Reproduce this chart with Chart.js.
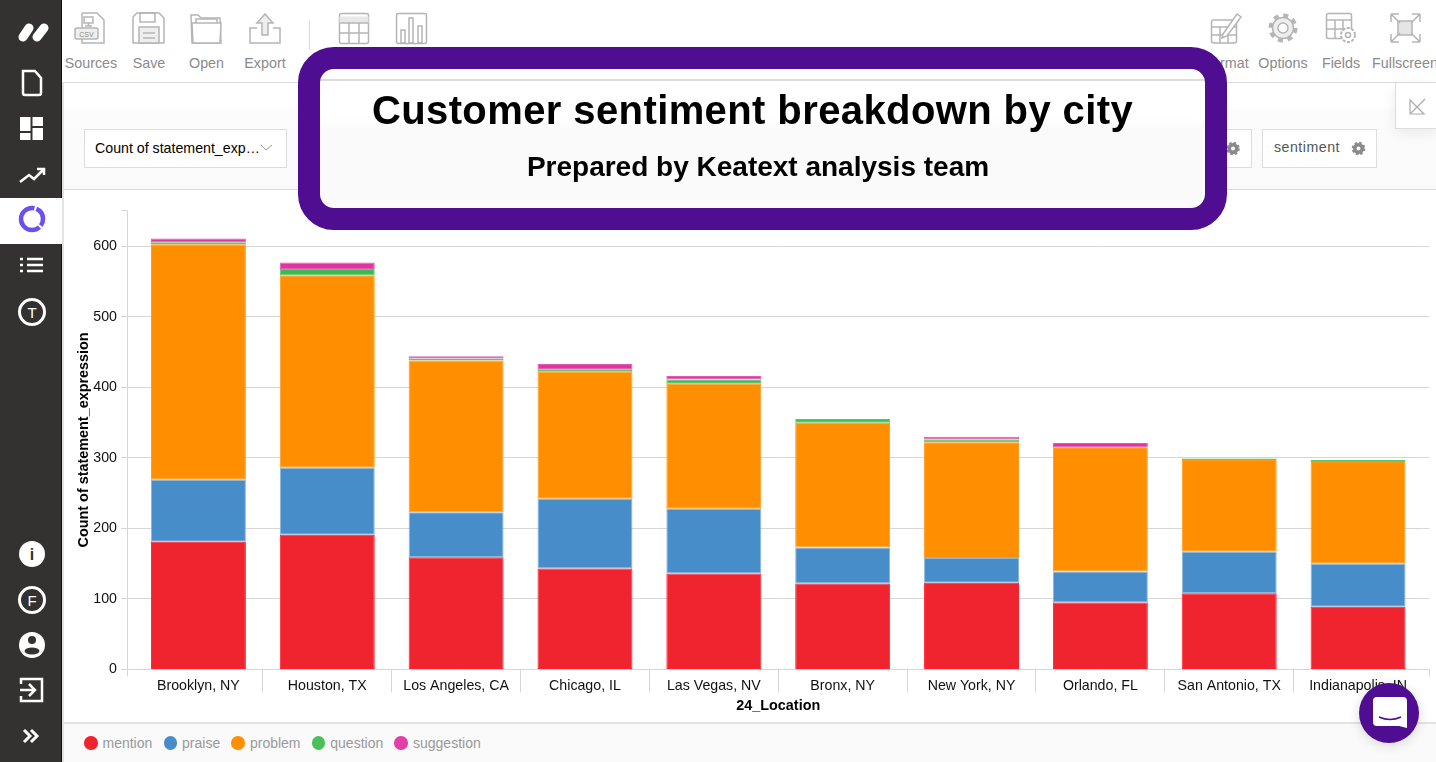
<!DOCTYPE html>
<html>
<head>
<meta charset="utf-8">
<title>Customer sentiment breakdown by city</title>
<script src="https://cdn.jsdelivr.net/npm/chart.js@4/dist/chart.umd.min.js"></script>
<style>
    html, body { margin: 0; padding: 0; width: 1436px; height: 762px; overflow: hidden; background: #fff; font-family: "Liberation Sans", Arial, sans-serif; }
    .abs { position: absolute; }
    #sidebar { left: 0; top: 0; width: 61px; height: 762px; background: #333230; border-right: 1px solid #111; }
    #active-band { left: 0; top: 198px; width: 62px; height: 46px; background: #fff; }
    #main-edge { left: 62px; top: 82px; width: 2px; height: 680px; background: #e2e2e2; }
    #toolbar-line { left: 62px; top: 82px; width: 1374px; height: 1px; background: #ddd; }
    #filter-band { left: 64px; top: 108px; width: 1372px; height: 81px; background: linear-gradient(#fcfcfc, #fafafa); border-bottom: 1px solid #ddd; }
    .tool { top: 55px; font-size: 14.300px; color: #8a8a8a; transform: translateX(-50%); white-space: nowrap; }
    .sep { left: 309px; top: 20px; width: 1px; height: 30px; background: #ddd; }
    .box { top: 129px; height: 37px; background: #fff; border: 1px solid #ddd; font-size: 14.200px; line-height: 37px; }
    #chart-wrap { left: 62px; top: 190px; width: 1374px; height: 532px; }
    #footer { left: 64px; top: 722px; width: 1372px; height: 40px; background: #fafafa; border-top: 2px solid #e2e2e2; box-sizing: border-box; }
    #legend { left: 84px; top: 734px; display: flex; gap: 11.250px; font-size: 14px; line-height: 18px; color: #999; }
    #legend .item { display: flex; align-items: center; gap: 5px; }
    #legend .dot { width: 13.500px; height: 13.500px; border-radius: 50%; }
    #headline { left: 298px; top: 47px; width: 885px; height: 139px; border: 22px solid #4f0d91; border-radius: 36px; background: linear-gradient(#fff 0, #fff 10px, #ddd 10px, #ddd 12px, #fff 12px, #fff 48px, #fafafa 60px); }
    .head-text { color: #000; font-weight: bold; transform: translateX(-50%); white-space: nowrap; }
    #corner { left: 1395px; top: 83px; width: 41px; height: 45px; background: #fff; border-left: 1px solid #ddd; border-bottom: 1px solid #ddd; box-shadow: 0 4px 14px rgba(0,0,0,.08); }
    #bubble { left: 1359px; top: 683px; width: 60px; height: 60px; border-radius: 50%; background: #4f0d91; box-shadow: 0 2px 12px rgba(0,0,0,.15); }
    svg { position: absolute; overflow: visible; }
</style>
</head>
<body>
<div class="abs" id="toolbar-line"></div>
<div class="abs" id="filter-band"></div>
<div class="abs" id="main-edge"></div>

<!-- toolbar icons -->
<svg class="abs" style="left:0;top:0" width="1436" height="90" fill="none" stroke="#b5b5b5" stroke-width="1.500">
    <path d="M82 13h15l7 7v23H82v-5M82 30v-17"/><rect x="75" y="28" width="23" height="11" rx="2" fill="#eee"/>
    <text x="86.500" y="37" font-size="7" fill="#888" stroke="none" text-anchor="middle">CSV</text>
    <rect x="84" y="17" width="9" height="6"/><path d="M88.500 23v3M85 26h7"/>
    <path d="M137 13h22l5 5v25h-31V17z"/><rect x="140" y="13" width="15" height="9"/><rect x="139" y="27" width="20" height="16" fill="#eee"/><path d="M143 33h12M143 38h12"/>
    <path d="M192 43l-1-28h7l3 3h19l1 25z"/><path d="M193 43l-1-20h29l-1 20z" fill="#fff"/><path d="M196 23v-4h21v4"/>
    <path d="M257 28h-7v15h30V28h-7"/><path d="M265 14l-8 9h5v12h6V23h5z" fill="#eee"/>
    <rect x="339.500" y="13.500" width="29" height="30" rx="2"/><path d="M339.500 20h29" stroke-width="7" stroke="#e8e8e8"/><path d="M339.500 23h29M339.500 33h29M349 23v20M359 23v20"/>
    <rect x="396.500" y="13.500" width="30" height="30" rx="2"/><rect x="401" y="30" width="4" height="13"/><rect x="409" y="18" width="4" height="25"/><rect x="418" y="26" width="4" height="17"/>
    <rect x="1211.500" y="20" width="25" height="23" rx="2"/><path d="M1211.500 27h25M1211.500 35h25M1220 27v16M1228 27v16"/><path d="M1223 34l14-20 4 3-14 19-5 2z" fill="#fff"/>
    <circle cx="1283" cy="28" r="12.500" stroke-width="4" stroke-dasharray="5 4.800"/><circle cx="1283" cy="28" r="10.500" fill="#eee"/><circle cx="1283" cy="28" r="5" fill="#fff"/>
    <rect x="1326.500" y="13.500" width="25" height="25" rx="2"/><path d="M1326.500 20h25M1326.500 29h25M1335 20v18M1343 20v18"/><circle cx="1348" cy="35" r="7" fill="#fff" stroke-width="2" stroke-dasharray="3 1.500"/><circle cx="1348" cy="35" r="2.500"/>
    <rect x="1398" y="21" width="14" height="14" fill="#e5e5e5"/><path d="M1391 14l9 9M1420 14l-9 9M1391 42l9-9M1420 42l-9-9M1391 14h8M1391 14v8M1420 14h-8M1420 14v8M1391 42h8M1391 42v-8M1420 42h-8M1420 42v-8"/>
</svg>
<div class="abs sep"></div>
<div class="abs tool" style="left:91px">Sources</div>
<div class="abs tool" style="left:149px">Save</div>
<div class="abs tool" style="left:206.500px">Open</div>
<div class="abs tool" style="left:265px">Export</div>
<div class="abs tool" style="left:1226px">Format</div>
<div class="abs tool" style="left:1283px">Options</div>
<div class="abs tool" style="left:1341px">Fields</div>
<div class="abs tool" style="left:1405px">Fullscreen</div>

<!-- filter controls -->
<div class="abs box" style="left:84px;width:191px;padding-left:10px;color:#000">Count of statement_exp…</div>
<div class="abs box" style="left:1180px;width:70px"></div>
<div class="abs box" style="left:1262px;width:102px;padding-left:11px;color:#555;letter-spacing:.5px;line-height:35px">sentiment</div>
<svg class="abs" style="left:0;top:0" width="1436" height="200" fill="none">
    <path d="M261 145l5 5 6-5" stroke="#999"/>
    <circle cx="1233" cy="148.500" r="3.800" stroke="#8a8a8a" stroke-width="3.600"/>
    <circle cx="1233" cy="148.500" r="5.800" stroke="#8a8a8a" stroke-width="2" stroke-dasharray="2.500 2.050"/>
    <circle cx="1358.500" cy="148.500" r="3.800" stroke="#8a8a8a" stroke-width="3.600"/>
    <circle cx="1358.500" cy="148.500" r="5.800" stroke="#8a8a8a" stroke-width="2" stroke-dasharray="2.500 2.050"/>
</svg>
<div class="abs" id="corner"></div>
<svg class="abs" style="left:0;top:0" width="1436" height="130" fill="none" stroke="#aaa" stroke-width="1.200">
    <path d="M1425 99l-14 14M1410 100v14h14z"/>
</svg>

<div class="abs" id="chart-wrap"><canvas id="cityChart" width="1374" height="532"></canvas></div>

<div class="abs" id="footer"></div>
<div class="abs" id="legend"></div>

<!-- headline overlay -->
<div class="abs" id="headline"></div>
<div class="abs head-text" style="left:752.500px;top:87px;font-size:40px;line-height:46px;letter-spacing:.4px">Customer sentiment breakdown by city</div>
<div class="abs head-text" style="left:758px;top:151px;font-size:28px;line-height:32px">Prepared by Keatext analysis team</div>

<!-- sidebar -->
<div class="abs" id="sidebar"></div>
<div class="abs" id="active-band"></div>
<svg class="abs" style="left:0;top:0" width="62" height="762" fill="none" stroke="#fff" stroke-width="2.500">
    <path d="M23 37L29 28" stroke-width="9" stroke-linecap="round"/><path d="M37 37L44 28" stroke-width="9" stroke-linecap="round"/>
    <path d="M23 71h12l6 7v15a2 2 0 0 1-2 2H25a2 2 0 0 1-2-2z"/>
    <path d="M20 117h10.500v14H20zM32.500 117h10.500v9H32.500zM32.500 128h10.500v12H32.500zM20 133h10.500v7H20z" fill="#fff" stroke="none"/>
    <path d="M20 182l9-7 5 4 9-9M37 169h7v6"/>
    <circle cx="32" cy="219" r="11" stroke="#6b4ff0" stroke-width="4.500" stroke-dasharray="7 2 45 2 13"/>
    <path d="M27 259h16M27 265h16M27 271h16M20 259h3M20 265h3M20 271h3" stroke-width="2.500"/>
    <circle cx="32" cy="312" r="12.500" stroke-width="3"/><text x="32" y="318" font-size="15" fill="#fff" stroke="none" text-anchor="middle">T</text>
    <circle cx="32" cy="554" r="13" fill="#fff" stroke="none"/><text x="32" y="560" font-size="16" font-weight="bold" fill="#333230" stroke="none" text-anchor="middle">i</text>
    <circle cx="32" cy="600" r="12.500" stroke-width="3"/><text x="32" y="606" font-size="15" fill="#fff" stroke="none" text-anchor="middle">F</text>
    <circle cx="32" cy="645" r="13" fill="#fff" stroke="none"/><circle cx="32" cy="640" r="4" fill="#333230" stroke="none"/><ellipse cx="32" cy="651" rx="7.500" ry="3.500" fill="#333230" stroke="none"/>
    <path d="M21 684v-5h21v22H21v-5M20 690h14M29 684l6 6-6 6"/>
    <path d="M24 730l6 6-6 6M31 730l6 6-6 6" stroke-width="3"/>
</svg>

<!-- chat bubble -->
<div class="abs" id="bubble"></div>
<svg class="abs" style="left:0;top:0" width="1436" height="762" fill="none">
    <path d="M1377 697h26a4 4 0 0 1 4 4v27l-8-2h-22a4 4 0 0 1-4-4v-21a4 4 0 0 1 4-4z" fill="#fff"/>
    <path d="M1379 717q11 5 22 0" stroke="#4f0d91" stroke-width="1.500"/>
</svg>

<script>
// Values
const cities = ["Brooklyn, NY", "Houston, TX", "Los Angeles, CA", "Chicago, IL", "Las Vegas, NV", "Bronx, NY", "New York, NY", "Orlando, FL", "San Antonio, TX", "Indianapolis, IN"];
const mention = [181, 191, 159, 143, 136, 122, 123, 95, 108, 89];
const praise = [88, 95, 64, 99, 92, 51, 35, 44, 59, 61];
const problem = [334, 273, 215, 180, 177, 177, 164, 175, 130, 144];
const question = [3, 9, 3, 3, 6, 5, 4, 1, 2, 3];
const suggestion = [5, 9, 3, 8, 5, 0, 4, 6, 0, 0];
const yTicks = [0, 100, 200, 300, 400, 500, 600];
const yMax = 651;

const seriesNames = ["mention", "praise", "problem", "question", "suggestion"];
const seriesValues = [mention, praise, problem, question, suggestion];
const seriesColors = ["#f0242e", "#478dc9", "#ff8f00", "#3cb950", "#e0359f"];
const seriesEdges = ["#ff1f2d", "#8ab6dc", "#ff9a1a", "#5cc96e", "#e35ab5"];
const legendColors = ["#f0242e", "#478dc9", "#ff8f00", "#4bbf5a", "#e040a8"];

const axisGrey = "#d6d6d6";

document.addEventListener("DOMContentLoaded", () => {
    // Legend sits in the page footer, outside the chart
    const legendEl = document.getElementById("legend");
    seriesNames.forEach((name, i) => {
        const item = document.createElement("div");
        item.className = "item";
        item.innerHTML = `<span class="dot" style="background:${legendColors[i]}"></span><span>${name}</span>`;
        legendEl.appendChild(item);
    });

    // Same rounding Chart.js uses for its 1px grid lines
    const snap = (px) => Math.round(px - 0.5) + 0.5;

    // Axis bits that stick out past the category band
    const axisExtras = {
        id: "axisExtras",
        beforeDatasetsDraw(chart) {
            const { ctx, chartArea, scales } = chart;
            const axisX = chartArea.left - 6.5;
            const endX = chartArea.right + 7;
            const topY = snap(scales.y.getPixelForValue(yMax));
            ctx.save();
            ctx.strokeStyle = axisGrey;
            ctx.lineWidth = 1;
            ctx.beginPath();
            ctx.moveTo(axisX, topY);
            ctx.lineTo(axisX, chartArea.bottom + 7);
            ctx.moveTo(axisX - 6, topY);
            ctx.lineTo(axisX, topY);
            yTicks.forEach((v) => {
                const y = snap(scales.y.getPixelForValue(v));
                ctx.moveTo(chartArea.right, y);
                ctx.lineTo(endX, y);
            });
            ctx.moveTo(endX, chartArea.bottom);
            ctx.lineTo(endX, chartArea.bottom + 7);
            ctx.stroke();
            ctx.restore();
        }
    };

    const ctx = document.getElementById("cityChart").getContext("2d");
    new Chart(ctx, {
        type: "bar",
        plugins: [axisExtras],
        data: {
            labels: cities,
            datasets: seriesNames.map((name, i) => ({
                label: name,
                data: seriesValues[i],
                backgroundColor: seriesColors[i],
                borderColor: seriesEdges[i],
                borderWidth: 1,
                borderSkipped: false,
                categoryPercentage: 1,
                barPercentage: 0.737
            }))
        },
        options: {
            responsive: false,
            animation: false,
            layout: { padding: { left: 0, right: 13.5, top: 20.4, bottom: 0 } },
            plugins: {
                legend: { display: false },
                tooltip: { enabled: false }
            },
            scales: {
                x: {
                    stacked: true,
                    afterFit: (scale) => { scale.height = 52.6; },
                    border: { display: false },
                    grid: {
                        offset: true,
                        drawOnChartArea: false,
                        tickLength: 23,
                        // the boundary past the last city has no index in the context
                        tickColor: (c) => (c.index === 0 || c.index === undefined) ? "transparent" : axisGrey
                    },
                    ticks: {
                        color: "#111",
                        font: { family: "'Liberation Sans'", size: 14.2 },
                        padding: -14.4,
                        autoSkip: false,
                        maxRotation: 0
                    },
                    title: {
                        display: true,
                        text: "24_Location",
                        color: "#000",
                        font: { family: "'Liberation Sans'", size: 14.4, weight: "bold" },
                        padding: { top: 0, bottom: 7.8 }
                    }
                },
                y: {
                    stacked: true,
                    min: 0,
                    max: yMax,
                    afterFit: (scale) => { scale.width = 72; },
                    afterBuildTicks: (scale) => { scale.ticks = yTicks.map((value) => ({ value })); },
                    border: { display: false },
                    grid: { color: axisGrey, tickColor: axisGrey, tickLength: 13 },
                    ticks: {
                        color: "#111",
                        font: { family: "'Liberation Sans'", size: 14.2 },
                        padding: 4
                    },
                    title: {
                        display: true,
                        text: "Count of statement_expression",
                        color: "#000",
                        font: { family: "'Liberation Sans'", size: 14.4, weight: "bold" },
                        padding: { top: 13.4, bottom: 0 }
                    }
                }
            }
        }
    });
});
</script>
</body>
</html>
